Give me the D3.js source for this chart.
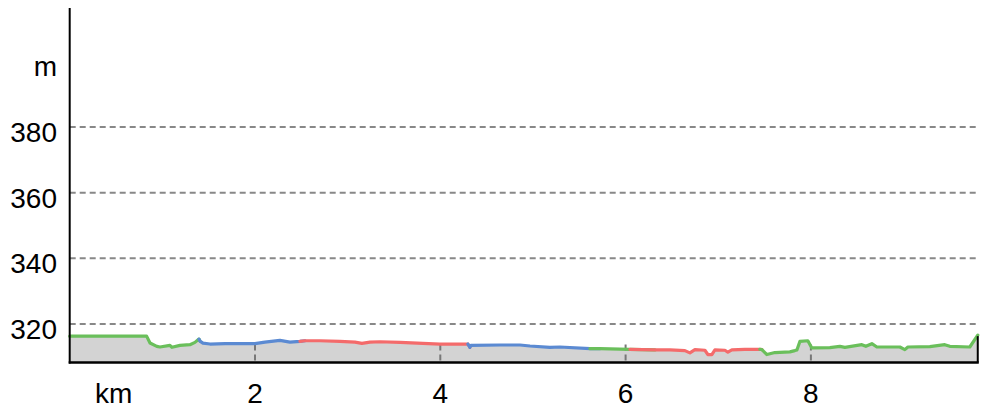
<!DOCTYPE html>
<html><head><meta charset="utf-8">
<script src="https://cdn.jsdelivr.net/npm/d3@7"></script>
<style>
html,body{margin:0;padding:0;background:#fff;}
svg{display:block;font-family:"Liberation Sans",Arial,sans-serif;}
</style></head>
<body><svg id="c" width="988" height="408"></svg>
<script>
// distance along route (km) and elevation (m)
const distanceKm = [0,0.83,0.867,0.94,0.974,1.082,1.104,1.19,1.298,1.352,1.395,1.406,1.438,1.514,1.676,1.946,2.0,2.107,2.269,2.377,2.485,2.539,2.701,2.917,3.079,3.154,3.241,3.349,3.565,3.996,4.298,4.32,4.331,4.644,4.860,4.968,5.183,5.291,5.615,5.723,6.047,6.317,6.479,6.640,6.694,6.748,6.856,6.888,6.931,6.964,7.072,7.104,7.147,7.287,7.449,7.471,7.525,7.611,7.773,7.827,7.849,7.881,7.967,8.010,8.205,8.313,8.367,8.550,8.593,8.658,8.712,8.960,9.014,9.047,9.284,9.445,9.499,9.715,9.801];
const elevationM = [316.3,316.3,314.2,313.2,313.0,313.5,312.9,313.5,313.7,314.4,315.4,314.8,314.2,313.9,314.0,314.0,314.0,314.5,315.0,314.5,314.7,314.9,314.9,314.7,314.5,314.1,314.5,314.6,314.4,313.9,313.9,312.9,313.5,313.6,313.6,313.3,312.9,313.0,312.5,312.5,312.3,312.1,312.1,311.9,311.2,312.2,312.0,310.7,310.7,312.1,312.0,311.4,312.1,312.3,312.3,312.2,310.7,311.3,311.5,311.9,312.1,314.7,314.9,312.7,312.8,313.2,312.9,313.7,313.2,314.0,313.0,313.0,312.2,313.0,313.1,313.7,313.2,313.0,316.6];
// segment colouring (end km of each segment)
const segmentEndKm = [1.406,2.539,4.32,5.723,6.317,7.471,9.801];
const segmentColor = ["#6abf5b","#5b8ad2","#f46b6b","#5b8ad2","#6abf5b","#f46b6b","#6abf5b"];
const yTicks = [320,340,360,380,400];
const xTicks = [0,2,4,6,8];

const svg = d3.select("#c");
const x = d3.scaleLinear().domain([0,2]).range([69.7,255]);
const y = d3.scaleLinear().domain([320,380]).range([324,127]);
const xMax = d3.max(distanceKm);
const x0 = x(0), x1 = x(xMax), yB = 362.5, yT = 8;

const pts = distanceKm.map((d,i)=>({d, e:elevationM[i]}));

// area
svg.append("path").datum(pts)
  .attr("fill","#d3d3d3")
  .attr("d", d3.area().x(p=>x(p.d)).y0(yB).y1(p=>y(p.e)));

// gridlines
yTicks.filter(t=>t<400).forEach(t=>{
  svg.append("line").attr("x1",x0).attr("x2",x1).attr("y1",y(t)).attr("y2",y(t))
    .attr("stroke","#888").attr("stroke-width",2).attr("stroke-dasharray","6,4");
});
// x tick dashes
xTicks.filter(t=>t>0).forEach(t=>{
  svg.append("line").attr("x1",x(t)).attr("x2",x(t)).attr("y1",yB-18).attr("y2",yB)
    .attr("stroke","#777").attr("stroke-width",2).attr("stroke-dasharray","6,4");
});

// coloured line segments
let start = 0;
segmentEndKm.forEach((end,i)=>{
  const seg = pts.filter(p=>p.d>=start-1e-9 && p.d<=end+1e-9);
  const prev = pts.filter(p=>p.d<start).slice(-1);
  const data = prev.concat(seg);
  svg.append("path").datum(data)
    .attr("fill","none").attr("stroke",segmentColor[i]).attr("stroke-width",3.2)
    .attr("stroke-linejoin","round").attr("stroke-linecap","round")
    .attr("d", d3.line().x(p=>x(p.d)).y(p=>y(p.e)));
  start = end;
});

// axes lines
svg.append("line").attr("x1",x0).attr("x2",x0).attr("y1",yT).attr("y2",yB+1)
  .attr("stroke","#000").attr("stroke-width",2);
svg.append("line").attr("x1",x0-1).attr("x2",x1+1).attr("y1",yB).attr("y2",yB)
  .attr("stroke","#000").attr("stroke-width",2.5);
svg.append("line").attr("x1",x1).attr("x2",x1).attr("y1",y(elevationM[elevationM.length-1])+1).attr("y2",yB)
  .attr("stroke","#000").attr("stroke-width",2);

// y labels
yTicks.forEach(t=>{
  svg.append("text").attr("x",57).attr("y",y(t)+15).attr("text-anchor","end")
    .attr("font-size",28).attr("fill","#000").text(t===400?"m":t);
});
// x labels
xTicks.forEach(t=>{
  svg.append("text").attr("x",t===0?x(t)+44:x(t)).attr("y",403).attr("text-anchor","middle")
    .attr("font-size",28).attr("fill","#000").text(t===0?"km":t);
});
</script></body></html>
